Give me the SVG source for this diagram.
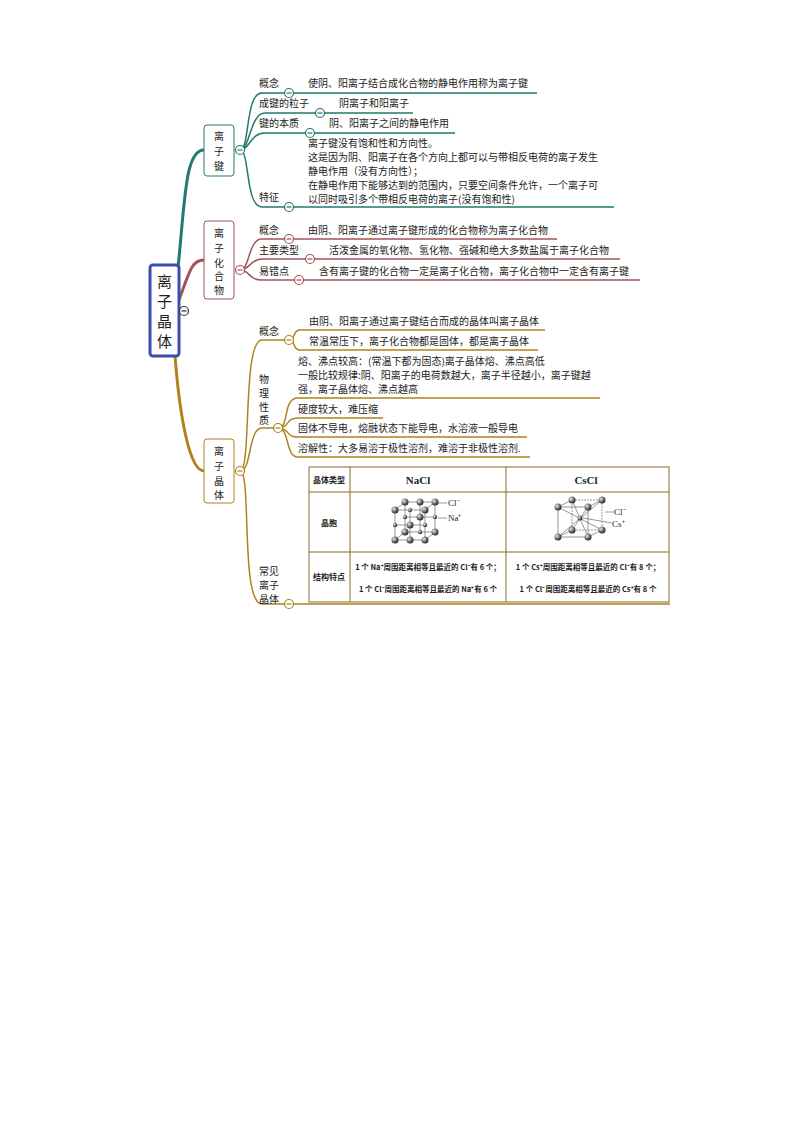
<svg xmlns="http://www.w3.org/2000/svg" width="794" height="1123" viewBox="0 0 794 1123">
<style>
text{font-family:"Noto Sans CJK SC","Liberation Serif",serif;font-size:10px;fill:#222}
.rt{font-size:15px}
.t{fill:none;stroke:#217a6e;stroke-width:1.5}
.r{fill:none;stroke:#a5515a;stroke-width:1.5}
.g{fill:none;stroke:#b0821a;stroke-width:1.5}
.cc{fill:#fff;stroke-width:1.2}
.tb{fill:#fff;stroke:#8a6a2a;stroke-width:1}
.th{font-family:"Noto Sans CJK SC",sans-serif;font-size:8px;font-weight:bold}
.big{font-family:"Liberation Serif",serif;font-weight:bold;font-size:11px}
.sm{font-family:"Noto Sans CJK SC","Liberation Serif",serif;font-size:7.5px;font-weight:bold}
.ion{font-family:"Liberation Serif",serif;font-size:9px}
</style>
<defs>
<radialGradient id="sp" cx="0.35" cy="0.35" r="0.7"><stop offset="0" stop-color="#eee"/><stop offset="0.5" stop-color="#777"/><stop offset="1" stop-color="#222"/></radialGradient>
<g id="minus"><circle r="4.5" class="cc"/><line x1="-2.5" x2="2.5" y1="0" y2="0" stroke-width="1.2"/></g>
</defs>
<g id="connectors">
<path d="M178 268 C185 200 185 150 204 150" fill="none" stroke="#217a6e" stroke-width="3"/>
<path d="M179 300 C190 270 192 260 204 260" fill="none" stroke="#a5515a" stroke-width="3"/>
<path d="M175 356 C180 420 190 471 204 471" fill="none" stroke="#b0821a" stroke-width="3"/>
<path class="t" d="M240 150 C250 150 245 93 262 93 L537 93"/>
<path class="t" d="M240 150 C250 150 250 113 265 113 L413 113"/>
<path class="t" d="M240 150 C250 150 250 133 265 133 L455 133"/>
<path class="t" d="M240 150 C250 150 245 207 262 207 L614 207"/>
<path class="r" d="M240 270 C250 270 248 239 262 239 L557 239"/>
<path class="r" d="M240 270 C250 270 250 259 262 259 L620 259"/>
<path class="r" d="M240 270 C250 270 248 280 262 280 L640 280"/>
<path class="g" d="M240 471 C252 471 242 340 262 340 L289 340"/>
<path class="g" d="M289 340 C296 340 292 330 300 330 L545 330"/>
<path class="g" d="M289 340 C296 340 292 350 300 350 L538 350"/>
<path class="g" d="M240 471 C252 471 248 428 262 428 L278 428"/>
<path class="g" d="M278 428 C290 428 282 398 298 398 L600 398"/>
<path class="g" d="M278 428 C290 428 285 418 298 418 L383 418"/>
<path class="g" d="M278 428 C290 428 285 437 298 437 L527 437"/>
<path class="g" d="M278 428 C290 428 285 457 298 457 L530 457"/>
<path class="g" d="M240 471 C252 471 240 604 262 604 L670 604"/>
</g>
<g id="root">
<rect x="150" y="265" width="29" height="91" rx="3" fill="#fff" stroke="#3a4fb0" stroke-width="3"/>
<text x="164.5" y="287" text-anchor="middle" class="rt">离</text>
<text x="164.5" y="307" text-anchor="middle" class="rt">子</text>
<text x="164.5" y="327" text-anchor="middle" class="rt">晶</text>
<text x="164.5" y="347" text-anchor="middle" class="rt">体</text>
<use href="#minus" x="184" y="311" stroke="#333"/>
</g>
<g id="n-bond">
<rect x="204" y="125" width="30" height="51" rx="3" fill="#fff" stroke="#217a6e"/>
<text x="219" y="140" text-anchor="middle">离</text><text x="219" y="155" text-anchor="middle">子</text><text x="219" y="170" text-anchor="middle">键</text>
<use href="#minus" x="240" y="150" stroke="#217a6e"/>
<text x="259" y="87">概念</text><use href="#minus" x="289" y="93" stroke="#217a6e"/>
<text x="308" y="87">使阴、阳离子结合成化合物的静电作用称为离子键</text>
<text x="259" y="107">成键的粒子</text><use href="#minus" x="320" y="113" stroke="#217a6e"/>
<text x="339" y="107">阴离子和阳离子</text>
<text x="259" y="127">键的本质</text><use href="#minus" x="310" y="133" stroke="#217a6e"/>
<text x="329" y="127">阴、阳离子之间的静电作用</text>
<text x="259" y="201">特征</text><use href="#minus" x="289" y="207" stroke="#217a6e"/>
<text x="308" y="147">离子键没有饱和性和方向性。</text>
<text x="308" y="161">这是因为阴、阳离子在各个方向上都可以与带相反电荷的离子发生</text>
<text x="308" y="175">静电作用（没有方向性）；</text>
<text x="308" y="189">在静电作用下能够达到的范围内，只要空间条件允许，一个离子可</text>
<text x="308" y="203">以同时吸引多个带相反电荷的离子(没有饱和性)</text>
</g>
<g id="n-compound">
<rect x="204" y="221" width="30" height="78" rx="3" fill="#fff" stroke="#a5515a"/>
<text x="219" y="237" text-anchor="middle">离</text><text x="219" y="252" text-anchor="middle">子</text><text x="219" y="267" text-anchor="middle">化</text><text x="219" y="280" text-anchor="middle">合</text><text x="219" y="294" text-anchor="middle">物</text>
<use href="#minus" x="240" y="270" stroke="#a5515a"/>
<text x="259" y="234">概念</text><use href="#minus" x="289" y="239" stroke="#a5515a"/>
<text x="308" y="234">由阴、阳离子通过离子键形成的化合物称为离子化合物</text>
<text x="259" y="254">主要类型</text><use href="#minus" x="310" y="259" stroke="#a5515a"/>
<text x="329" y="254">活泼金属的氧化物、氢化物、强碱和绝大多数盐属于离子化合物</text>
<text x="259" y="275">易错点</text><use href="#minus" x="299" y="280" stroke="#a5515a"/>
<text x="319" y="275">含有离子键的化合物一定是离子化合物，离子化合物中一定含有离子键</text>
</g>
<g id="n-crystal">
<rect x="204" y="439" width="30" height="64" rx="3" fill="#fff" stroke="#b0821a"/>
<text x="219" y="455" text-anchor="middle">离</text><text x="219" y="470" text-anchor="middle">子</text><text x="219" y="485" text-anchor="middle">晶</text><text x="219" y="499" text-anchor="middle">体</text>
<use href="#minus" x="240" y="471" stroke="#b0821a"/>
<text x="259" y="335">概念</text><use href="#minus" x="289" y="340" stroke="#b0821a"/>
<text x="309" y="325">由阴、阳离子通过离子键结合而成的晶体叫离子晶体</text>
<text x="309" y="345">常温常压下，离子化合物都是固体，都是离子晶体</text>
<text x="259" y="383">物</text><text x="259" y="397">理</text><text x="259" y="411">性</text><text x="259" y="424">质</text>
<use href="#minus" x="278" y="428" stroke="#b0821a"/>
<text x="298" y="365">熔、沸点较高：(常温下都为固态)离子晶体熔、沸点高低</text>
<text x="298" y="379">一般比较规律:阴、阳离子的电荷数越大，离子半径越小，离子键越</text>
<text x="298" y="393">强，离子晶体熔、沸点越高</text>
<text x="298" y="413">硬度较大，难压缩</text>
<text x="298" y="432">固体不导电，熔融状态下能导电，水溶液一般导电</text>
<text x="298" y="452">溶解性：大多易溶于极性溶剂，难溶于非极性溶剂.</text>
<text x="259" y="575">常见</text><text x="259" y="589">离子</text><text x="259" y="603">晶体</text>
<use href="#minus" x="289" y="604" stroke="#b0821a"/>
</g>
<g id="table">
<rect x="309" y="467" width="360" height="135" class="tb"/>
<line x1="350" y1="467" x2="350" y2="602" stroke="#8a6a2a"/>
<line x1="506" y1="467" x2="506" y2="602" stroke="#8a6a2a"/>
<line x1="309" y1="492" x2="669" y2="492" stroke="#8a6a2a"/>
<line x1="309" y1="552" x2="669" y2="552" stroke="#8a6a2a"/>
<text x="329" y="483" class="th" text-anchor="middle">晶体类型</text>
<text x="329" y="526" class="th" text-anchor="middle">晶胞</text>
<text x="329" y="580" class="th" text-anchor="middle">结构特点</text>
<text x="418" y="484" class="big" text-anchor="middle">NaCl</text>
<text x="586" y="484" class="big" text-anchor="middle">CsCl</text>
<text x="428" y="570" class="sm" text-anchor="middle">1 个 Na⁺周围距离相等且最近的 Cl⁻有 6 个；</text>
<text x="428" y="592" class="sm" text-anchor="middle">1 个 Cl⁻周围距离相等且最近的 Na⁺有 6 个</text>
<text x="588" y="570" class="sm" text-anchor="middle">1 个 Cs⁺周围距离相等且最近的 Cl⁻有 8 个；</text>
<text x="588" y="592" class="sm" text-anchor="middle">1 个 Cl⁻周围距离相等且最近的 Cs⁺有 8 个</text>
<g stroke="#555" stroke-width="0.6" fill="none">
<rect x="395" y="510" width="30" height="30"/><rect x="405" y="502" width="30" height="30"/>
<line x1="395" y1="510" x2="405" y2="502"/><line x1="425" y1="510" x2="435" y2="502"/><line x1="395" y1="540" x2="405" y2="532"/><line x1="425" y1="540" x2="435" y2="532"/>
<line x1="410" y1="510" x2="410" y2="540"/><line x1="395" y1="525" x2="425" y2="525"/><line x1="420" y1="502" x2="420" y2="532"/><line x1="405" y1="517" x2="435" y2="517"/>
<line x1="438" y1="503" x2="447" y2="503"/><line x1="438" y1="518" x2="447" y2="518"/>
</g>
<g fill="url(#sp)">
<circle cx="395" cy="510" r="3.5"/><circle cx="425" cy="510" r="3.5"/><circle cx="395" cy="540" r="3.5"/><circle cx="425" cy="540" r="3.5"/>
<circle cx="405" cy="502" r="3.5"/><circle cx="435" cy="502" r="3.5"/><circle cx="405" cy="532" r="3.5"/><circle cx="435" cy="532" r="3.5"/>
<circle cx="410" cy="525" r="3.5"/><circle cx="420" cy="517" r="3.5"/><circle cx="420" cy="502" r="3.5"/><circle cx="410" cy="540" r="3.5"/>
<circle cx="410" cy="510" r="2.2"/><circle cx="395" cy="525" r="2.2"/><circle cx="425" cy="525" r="2.2"/><circle cx="435" cy="517" r="2.2"/><circle cx="420" cy="532" r="2.2"/><circle cx="405" cy="517" r="2.2"/>
</g>
<text x="448" y="506" class="ion">Cl⁻</text>
<text x="448" y="521" class="ion">Na⁺</text>
<g stroke="#555" stroke-width="0.6" fill="none">
<rect x="558" y="507" width="30" height="30"/><rect x="572" y="500" width="30" height="30" stroke-dasharray="2,1"/>
<line x1="558" y1="507" x2="572" y2="500"/><line x1="588" y1="507" x2="602" y2="500"/><line x1="558" y1="537" x2="572" y2="530"/><line x1="588" y1="537" x2="602" y2="530"/>
<line x1="558" y1="507" x2="602" y2="530"/><line x1="588" y1="507" x2="572" y2="530"/><line x1="558" y1="537" x2="602" y2="500"/><line x1="588" y1="537" x2="572" y2="500"/>
<line x1="605" y1="512" x2="614" y2="512"/><line x1="583" y1="518" x2="612" y2="523"/>
</g>
<g fill="url(#sp)">
<circle cx="558" cy="507" r="3.5"/><circle cx="588" cy="507" r="3.5"/><circle cx="558" cy="537" r="3.5"/><circle cx="588" cy="537" r="3.5"/>
<circle cx="572" cy="500" r="3.5"/><circle cx="602" cy="500" r="3.5"/><circle cx="572" cy="530" r="3.5"/><circle cx="602" cy="530" r="3.5"/>
<circle cx="580" cy="518" r="2.5"/>
</g>
<text x="614" y="515" class="ion">Cl⁻</text>
<text x="612" y="527" class="ion">Cs⁺</text>
</g>
</svg>
